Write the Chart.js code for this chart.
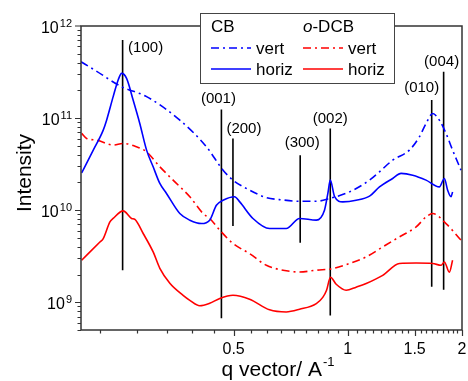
<!DOCTYPE html>
<html>
<head>
<meta charset="utf-8">
<script src="https://cdn.jsdelivr.net/npm/chart.js@4.4.1/dist/chart.umd.min.js"></script>
<style>
  html, body { margin: 0; padding: 0; background: #fff; }
  #wrap { width: 468px; height: 381px; }
</style>
</head>
<body>
<div id="wrap"><canvas id="saxsChart" width="468" height="381"></canvas></div>
<script>
// CB, vertical cut
const cbVertQ = [0.198, 0.215, 0.2533, 0.2948, 0.3607, 0.424, 0.469, 0.498, 0.551, 0.610, 0.675, 0.746, 0.826, 0.895, 1.01, 1.141, 1.212, 1.313, 1.453, 1.544, 1.608, 1.674, 1.743, 1.815, 1.889, 1.988];
const cbVertI = [4.09e11, 3.33e11, 2.19e11, 1.71e11, 9.5e10, 4.88e10, 2.72e10, 2.12e10, 1.65e10, 1.37e10, 1.29e10, 1.25e10, 1.25e10, 1.34e10, 1.58e10, 2.12e10, 2.61e10, 3.49e10, 4.49e10, 6.26e10, 8.75e10, 1.12e11, 9.5e10, 6.82e10, 4.49e10, 2.72e10];

// CB, horizontal cut
const cbHorizQ = [0.1988, 0.2133, 0.2266, 0.2313, 0.2407, 0.2481, 0.2533, 0.2611, 0.2717, 0.2829, 0.2948, 0.3068, 0.3195, 0.3327, 0.3607, 0.3833, 0.4114, 0.4325, 0.4504, 0.469, 0.503, 0.519, 0.5623, 0.622, 0.688, 0.746, 0.826, 0.868, 0.886, 0.899, 0.923, 0.970, 1.052, 1.141, 1.212, 1.313, 1.382, 1.483, 1.608, 1.743, 1.797, 1.833, 1.871, 1.889];
const cbHorizI = [2.54e10, 4.49e10, 7.41e10, 9.5e10, 1.71e11, 2.59e11, 3.06e11, 2.7e11, 1.57e11, 8.75e10, 4.49e10, 2.96e10, 1.95e10, 1.52e10, 9.2e9, 7.79e9, 7.16e9, 7.79e9, 1.13e10, 1.28e10, 1.4e10, 1.23e10, 8.13e9, 6.32e9, 6.32e9, 8.13e9, 7.79e9, 1e10, 1.52e10, 2.12e10, 1.4e10, 1.23e10, 1.28e10, 1.42e10, 1.79e10, 2.21e10, 2.51e10, 2.4e10, 2.12e10, 1.79e10, 2.21e10, 1.65e10, 1.4e10, 1.58e10];

// o-DCB, vertical cut
const odcbVertQ = [0.1988, 0.2049, 0.2177, 0.2407, 0.2558, 0.2773, 0.2948, 0.3195, 0.3463, 0.3833, 0.4154, 0.4325, 0.4597, 0.498, 0.551, 0.610, 0.675, 0.746, 0.826, 0.913, 1.01, 1.118, 1.236, 1.368, 1.514, 1.608, 1.674, 1.815, 1.988];
const odcbVertI = [6.82e10, 6.01e10, 5.77e10, 5.09e10, 5.31e10, 4.88e10, 4.3e10, 2.96e10, 2.12e10, 1.4e10, 9.2e9, 8.13e9, 6.07e9, 4.35e9, 3.38e9, 2.52e9, 2.23e9, 2.13e9, 2.23e9, 2.32e9, 2.64e9, 3.11e9, 3.99e9, 5.13e9, 6.58e9, 8.45e9, 9.2e9, 7.16e9, 4.72e9];

// o-DCB, horizontal cut
const odcbHorizQ = [0.1988, 0.2221, 0.2266, 0.2360, 0.2407, 0.2558, 0.2692, 0.2746, 0.2888, 0.3068, 0.3195, 0.3395, 0.368, 0.3833, 0.4071, 0.4325, 0.4597, 0.498, 0.551, 0.622, 0.688, 0.746, 0.826, 0.859, 0.879, 0.9, 0.932, 0.99, 1.052, 1.118, 1.236, 1.368, 1.514, 1.674, 1.762, 1.797, 1.852, 1.889];
const odcbHorizI = [2.86e9, 4.52e9, 4.92e9, 7.46e9, 8.13e9, 9.82e9, 8.13e9, 7.93e9, 5.58e9, 3.52e9, 2.34e9, 1.61e9, 1.19e9, 1.05e9, 9.16e8, 9.75e8, 1.1e9, 1.19e9, 1.08e9, 8.28e8, 7.85e8, 8.39e8, 9.68e8, 1.13e9, 1.35e9, 1.87e9, 1.57e9, 1.35e9, 1.46e9, 1.6e9, 1.96e9, 2.64e9, 2.67e9, 2.64e9, 2.52e9, 2.74e9, 2.12e9, 2.86e9];

// peak markers
const peakLabels = ['(100)', '(001)', '(200)', '(300)', '(002)', '(010)', '(004)'];
const peakQ = [0.2549, 0.4643, 0.498, 0.749, 0.899, 1.664, 1.789];
const peakTop = [7.05e11, 1.243e11, 6.0e10, 3.96e10, 7.73e10, 1.57e11, 3.19e11];
const peakBottom = [2.23e9, 6.7e8, 6.75e9, 4.42e9, 7.2e8, 1.47e9, 1.37e9];

// axis ticks
const xTickValues = [0.5, 1, 1.5, 2];
const xTickLabels = ['0.5', '1', '1.5', '2'];
const yTickExps = [9, 10, 11, 12];

// label nudges (px) relative to the top of each marker line
const labelDx = [23, -3, 11, 2, 0, -10, -2];
const labelDy = [8, -11, -10, -12, -10, -12, -10];

const FONT = "'Liberation Sans', Arial, sans-serif";
const dashDot = [8, 4, 2, 4];

function pts(qs, is) {
  return qs.map((q, i) => ({ x: q, y: is[i] }));
}

const curveSets = [
  { label: 'CB vert', data: pts(cbVertQ, cbVertI), borderColor: '#0000ff', borderDash: dashDot },
  { label: 'CB horiz', data: pts(cbHorizQ, cbHorizI), borderColor: '#0000ff' },
  { label: 'o-DCB vert', data: pts(odcbVertQ, odcbVertI), borderColor: '#ff0000', borderDash: dashDot },
  { label: 'o-DCB horiz', data: pts(odcbHorizQ, odcbHorizI), borderColor: '#ff0000' }
].map(d => Object.assign(d, { borderWidth: 1.6, pointRadius: 0, cubicInterpolationMode: 'monotone', fill: false }));

const markerSets = peakQ.map((q, i) => ({
  label: peakLabels[i],
  data: [{ x: q, y: peakTop[i] }, { x: q, y: peakBottom[i] }],
  borderColor: '#000',
  borderWidth: 1.6,
  pointRadius: 0,
  fill: false
}));

// axes frame, ticks, labels, titles, legend
const decorations = {
  id: 'decorations',
  afterDraw(chart) {
    const { ctx, chartArea: a, scales: { x, y } } = chart;
    ctx.save();

    // peak labels
    ctx.fillStyle = '#000';
    ctx.font = '15px ' + FONT;
    ctx.textAlign = 'center';
    ctx.textBaseline = 'middle';
    peakQ.forEach((q, i) => {
      ctx.fillText(peakLabels[i], x.getPixelForValue(q) + labelDx[i], y.getPixelForValue(peakTop[i]) + labelDy[i]);
    });

    // frame
    ctx.strokeStyle = '#333';
    ctx.lineWidth = 1.5;
    ctx.strokeRect(a.left, a.top, a.right - a.left, a.bottom - a.top);

    // y ticks
    ctx.lineWidth = 1.2;
    ctx.beginPath();
    for (let e = 8; e <= 11; e++) {
      for (let m = 1; m <= 9; m++) {
        const v = m * Math.pow(10, e);
        if (v < y.min || v > y.max) continue;
        const py = Math.round(y.getPixelForValue(v)) + 0.5;
        const len = m === 1 ? 6 : 3.5;
        ctx.moveTo(a.left, py);
        ctx.lineTo(a.left - len, py);
      }
    }
    const pyTop = y.getPixelForValue(1e12);
    ctx.moveTo(a.left, pyTop); ctx.lineTo(a.left - 6, pyTop);

    // x ticks: minor steps of 0.5/9 as in the original
    const step = 0.5 / 9;
    for (let k = -6; k <= 27; k++) {
      const v = 0.5 + k * step;
      if (v < x.min - 1e-9 || v > x.max + 1e-9) continue;
      const px = Math.round(x.getPixelForValue(v)) + 0.5;
      const len = k % 9 === 0 ? 6 : 3.5;
      ctx.moveTo(px, a.bottom);
      ctx.lineTo(px, a.bottom + len);
    }
    ctx.stroke();

    // x tick labels
    ctx.fillStyle = '#000';
    ctx.font = '16px ' + FONT;
    ctx.textAlign = 'center';
    ctx.textBaseline = 'alphabetic';
    xTickValues.forEach((v, i) => {
      ctx.fillText(xTickLabels[i], x.getPixelForValue(v), a.bottom + 24);
    });

    // y tick labels 10^n
    yTickExps.forEach(e => {
      const py = y.getPixelForValue(Math.pow(10, e));
      ctx.font = '11px ' + FONT;
      const sup = String(e);
      const sw = ctx.measureText(sup).width;
      ctx.textAlign = 'right';
      ctx.fillText(sup, 72, py + 1);
      ctx.font = '16px ' + FONT;
      ctx.fillText('10', 72 - sw - 1, py + 7);
    });

    // x title
    ctx.textAlign = 'left';
    ctx.font = '21px ' + FONT;
    const t1 = 'q vector/ A';
    const w1 = ctx.measureText(t1).width;
    ctx.font = '13px ' + FONT;
    const w2 = ctx.measureText('-1').width;
    const tx = 278 - (w1 + w2 + 1) / 2;
    ctx.font = '21px ' + FONT;
    ctx.fillText(t1, tx, 376);
    ctx.font = '13px ' + FONT;
    ctx.fillText('-1', tx + w1 + 1, 366);

    // y title
    ctx.save();
    ctx.translate(31, 173);
    ctx.rotate(-Math.PI / 2);
    ctx.font = '21px ' + FONT;
    ctx.textAlign = 'center';
    ctx.fillText('Intensity', 0, 0);
    ctx.restore();

    // legend box
    ctx.fillStyle = '#fff';
    ctx.fillRect(200, 13, 194, 70);
    ctx.strokeStyle = '#444';
    ctx.lineWidth = 1;
    ctx.strokeRect(200.5, 13.5, 194, 70);

    ctx.fillStyle = '#000';
    ctx.font = '17px ' + FONT;
    ctx.textAlign = 'left';
    ctx.textBaseline = 'middle';
    ctx.fillText('CB', 211, 27);
    ctx.font = 'italic 17px ' + FONT;
    ctx.fillText('o', 303, 27);
    const ow = ctx.measureText('o').width;
    ctx.font = '17px ' + FONT;
    ctx.fillText('-DCB', 303 + ow, 27);

    const rows = [
      [curveSets[0], 211, 48, 'vert'],
      [curveSets[1], 211, 69, 'horiz'],
      [curveSets[2], 303, 48, 'vert'],
      [curveSets[3], 303, 69, 'horiz']
    ];
    rows.forEach(([ds, lx, ly, txt]) => {
      ctx.strokeStyle = ds.borderColor;
      ctx.lineWidth = 1.5;
      ctx.setLineDash(ds.borderDash || []);
      ctx.beginPath();
      ctx.moveTo(lx, ly);
      ctx.lineTo(lx + 40, ly);
      ctx.stroke();
      ctx.setLineDash([]);
      ctx.fillText(txt, lx + 45, ly + 1);
    });

    ctx.restore();
  }
};

const ctx = document.getElementById('saxsChart').getContext('2d');
const saxsChart = new Chart(ctx, {
  type: 'line',
  data: { datasets: curveSets.concat(markerSets) },
  options: {
    responsive: false,
    animation: false,
    devicePixelRatio: 1,
    layout: { padding: { left: 81, right: 6, top: 26, bottom: 51 } },
    plugins: {
      legend: { display: false },
      tooltip: { enabled: false }
    },
    scales: {
      x: { type: 'logarithmic', min: 0.198, max: 2, display: false },
      y: { type: 'logarithmic', min: 5e8, max: 1e12, display: false }
    }
  },
  plugins: [decorations]
});
</script>
</body>
</html>
